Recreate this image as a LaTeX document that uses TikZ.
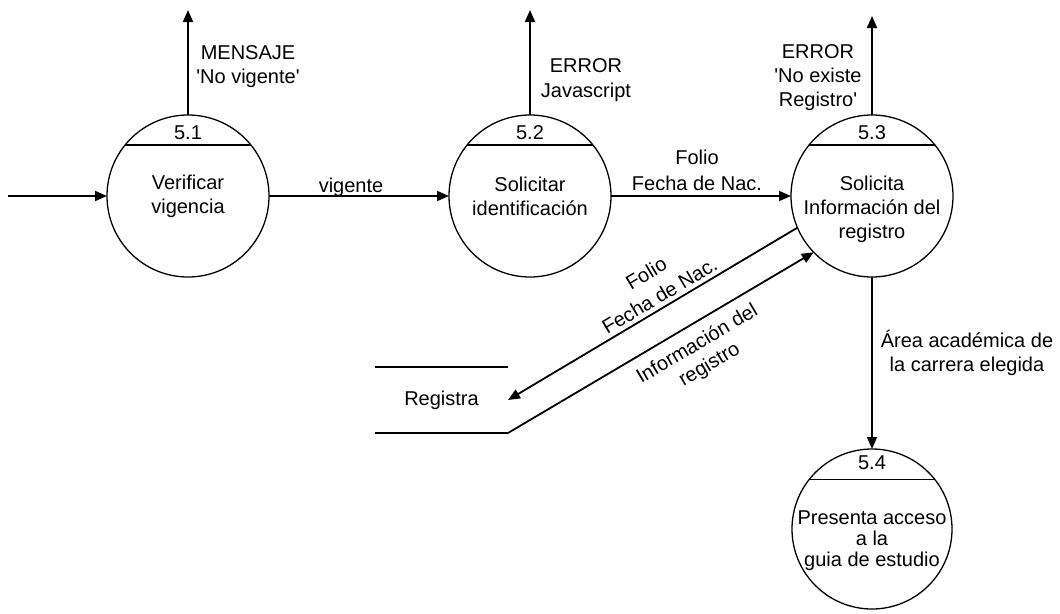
\documentclass[tikz,border=0pt]{standalone}
\usepackage{fontspec}
\setmainfont{Liberation Sans}
\usetikzlibrary{arrows.meta}
\tikzset{
  proc/.style={circle,draw,line width=1.3pt,minimum size=162pt,inner sep=0pt,outer sep=0pt},
  flow/.style={line width=1.8pt,-{Triangle[length=12pt,width=10pt]}},
  storeline/.style={line width=2.6pt},
  lbl/.style={align=center,inner sep=0pt,font=\fontsize{20}{24}\selectfont},
}
\begin{document}
\begin{tikzpicture}[x=1pt,y=-1pt]
  \useasboundingbox (0,0) rectangle (1060,613);
  \coordinate (in) at (8,196);
  \coordinate (o51) at (188,10);
  \coordinate (o52) at (530,10);
  \coordinate (o53) at (872,16);

  \node[proc] (p51) at (188,196) {};
  \node[proc] (p52) at (530,196) {};
  \node[proc] (p53) at (872,196) {};
  \node[proc,minimum size=160pt] (p54) at (872,529) {};
  \node[minimum width=133pt,minimum height=66pt,inner sep=0pt,outer sep=0pt,
        font=\fontsize{20}{24}\selectfont] (reg) at (441.5,400) {Registra};

  \draw[line width=1.3pt] (p51.141) -- (p51.39);
  \draw[line width=1.3pt] (p52.141) -- (p52.39);
  \draw[line width=1.3pt] (p53.141) -- (p53.39);
  \draw[line width=1.3pt] (p54.142) -- (p54.38);
  \draw[storeline] (reg.north west) -- (reg.north east);
  \draw[storeline] (reg.south west) -- (reg.south east);

  \node[lbl] (n51) at ([yshift=63pt]p51.center) {5.1};
  \node[lbl] (n52) at ([yshift=63pt]p52.center) {5.2};
  \node[lbl] (n53) at ([yshift=63pt]p53.center) {5.3};
  \node[lbl] (n54) at ([yshift=66pt]p54.center) {5.4};

  \node[lbl] (t51) at (p51.center) {Verificar\\vigencia};
  \node[lbl] (t52) at (p52.center) {Solicitar\\identificación};
  \node[lbl] (t53) at ([yshift=-13pt]p53.center) {Solicita\\Información del\\registro};
  \node[lbl,font=\fontsize{20}{21}\selectfont] (t54) at ([yshift=-12pt]p54.center)
    {Presenta acceso\\a la\\guia de estudio};

  \draw[flow] (in) -- (p51.west);
  \draw[flow] (p51.east) -- (p52.west);
  \draw[flow] (p52.east) -- (p53.west);
  \draw[flow] (p51.north) -- (o51);
  \draw[flow] (p52.north) -- (o52);
  \draw[flow] (p53.north) -- (o53);
  \draw[flow] (p53.south) -- (p54.north);
  \draw[flow] (p53.203) -- node[lbl,sloped,above=4pt,pos=0.455,font=\fontsize{20}{26}\selectfont]
    (f1) {Folio\\Fecha de Nac.} (reg.east);
  \draw[flow] (reg.south east) -- node[lbl,sloped,below=10pt,pos=0.586]
    (f2) {Información del\\registro} (p53.224);

  \node[lbl] (m51) at (248,67) {MENSAJE\\\textquotesingle No vigente\textquotesingle};
  \node[lbl,font=\fontsize{20}{25}\selectfont] (m52) at (586,80) {ERROR\\Javascript};
  \node[lbl] (m53) at (818,78) {ERROR\\\textquotesingle No existe\\Registro\textquotesingle};
  \node[lbl] (m12) at (351,187) {vigente};
  \node[lbl,font=\fontsize{20}{26}\selectfont] (m23) at (697,170) {Folio\\Fecha de Nac.};
  \node[lbl] (m34) at (967,353) {Área académica de\\la carrera elegida};
\end{tikzpicture}
\end{document}
